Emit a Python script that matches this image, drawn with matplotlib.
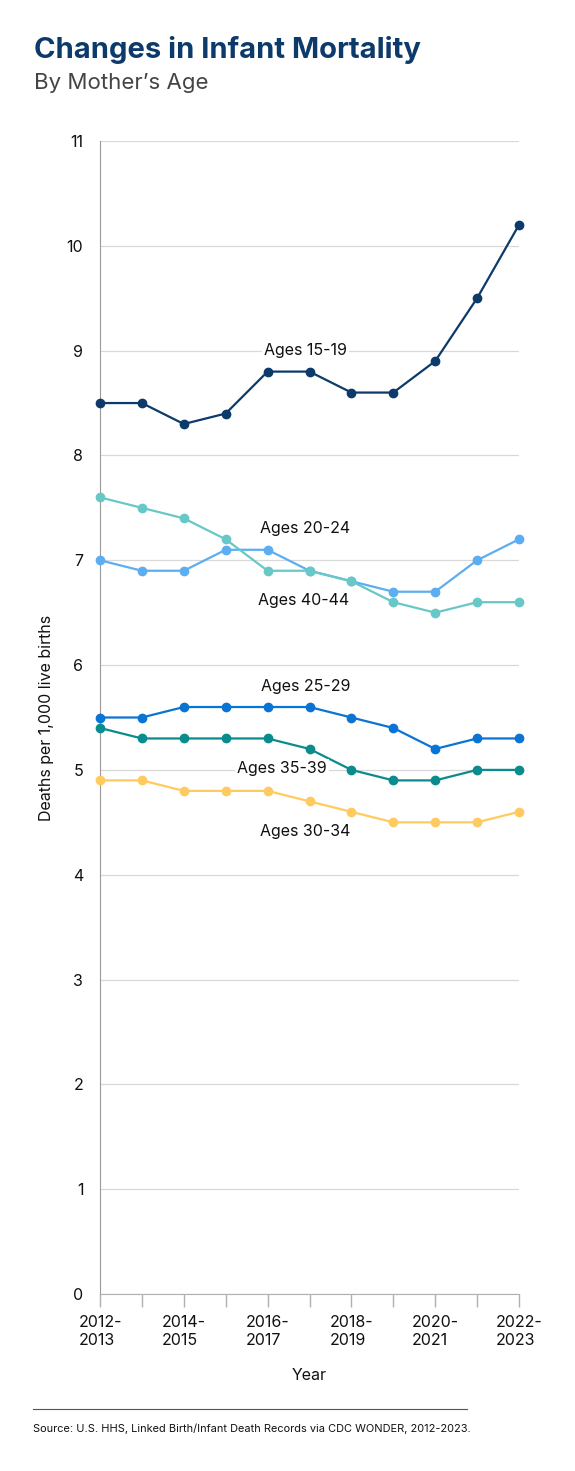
import numpy as np
import matplotlib.pyplot as plt

# data
periods = ["2012-\n2013", "2013-\n2014", "2014-\n2015", "2015-\n2016", "2016-\n2017", "2017-\n2018",
           "2018-\n2019", "2019-\n2020", "2020-\n2021", "2021-\n2022", "2022-\n2023"]
ages_15_19 = [8.5, 8.5, 8.3, 8.4, 8.8, 8.8, 8.6, 8.6, 8.9, 9.5, 10.2]
ages_20_24 = [7.0, 6.9, 6.9, 7.1, 7.1, 6.9, 6.8, 6.7, 6.7, 7.0, 7.2]
ages_25_29 = [5.5, 5.5, 5.6, 5.6, 5.6, 5.6, 5.5, 5.4, 5.2, 5.3, 5.3]
ages_30_34 = [4.9, 4.9, 4.8, 4.8, 4.8, 4.7, 4.6, 4.5, 4.5, 4.5, 4.6]
ages_35_39 = [5.4, 5.3, 5.3, 5.3, 5.3, 5.2, 5.0, 4.9, 4.9, 5.0, 5.0]
ages_40_44 = [7.6, 7.5, 7.4, 7.2, 6.9, 6.9, 6.8, 6.6, 6.5, 6.6, 6.6]

# series: label text, values, colour, label position (x index, y value)
series = [
    ("Ages 15-19", ages_15_19, "#0c3a6b", 4.9, 9.0),
    ("Ages 20-24", ages_20_24, "#5caef0", 4.9, 7.30),
    ("Ages 40-44", ages_40_44, "#68c7c7", 4.85, 6.62),
    ("Ages 25-29", ages_25_29, "#0a74d4", 4.9, 5.80),
    ("Ages 35-39", ages_35_39, "#0a8c8e", 4.35, 5.01),
    ("Ages 30-34", ages_30_34, "#ffcb5e", 4.9, 4.41),
]

plt.rcParams['font.family'] = ['Inter', 'DejaVu Sans']

fig = plt.figure(figsize=(5.75, 14.71), dpi=100)
ax = fig.add_axes([100/575, 1 - 1294/1471, 419/575, 1153/1471])

x = np.arange(len(periods))
for name, vals, col, lx, ly in series:
    ax.plot(x, vals, color=col, lw=1.6, marker='o', ms=6, zorder=3, clip_on=False)
for name, vals, col, lx, ly in series:
    ax.text(lx, ly, name, ha='center', va='center', fontsize=11.5, color='#111111', zorder=4,
            bbox=dict(facecolor='white', edgecolor='none', pad=1.5))

ax.set_xlim(0, 10)
ax.set_ylim(0, 11)
ax.set_yticks(range(0, 12))
ax.tick_params(axis='y', length=0, pad=12, labelsize=11.5, labelcolor='#111111')
ax.yaxis.grid(True, color='#d9d9d9', lw=0.9)
ax.set_axisbelow(True)

ax.set_xticks(x)
ax.set_xticklabels([p if i % 2 == 0 else "" for i, p in enumerate(periods)], fontsize=11.5,
                   color='#111111', multialignment='left', linespacing=1.3)
ax.tick_params(axis='x', length=9, color='#b0b0b0', width=1, pad=6)

for s in ['top', 'right']:
    ax.spines[s].set_visible(False)
ax.spines['left'].set_color('#9a9a9a')
ax.spines['bottom'].set_color('#b0b0b0')

ax.set_xlabel("Year", fontsize=11.5, color='#111111', labelpad=14)
ax.set_ylabel("Deaths per 1,000 live births", fontsize=11.5, color='#111111', labelpad=9)

fig.text(34/575, 1 - 58/1471, "Changes in Infant Mortality", fontsize=21, fontweight='bold',
         color='#0c3a6b', va='baseline', ha='left')
fig.text(34/575, 1 - 89/1471, "By Mother\u2019s Age", fontsize=16, color='#444444',
         va='baseline', ha='left')

fig.add_artist(plt.Line2D([33/575, 467/575], [1 - 1409/1471, 1 - 1409/1471],
                          color='#555555', lw=0.8))
fig.text(33/575, 1 - 1429/1471,
         "Source: U.S. HHS, Linked Birth/Infant Death Records via CDC WONDER, 2012-2023.",
         fontsize=7.9, color='#111111', va='center', ha='left')

fig.savefig("out.png", dpi=100)
